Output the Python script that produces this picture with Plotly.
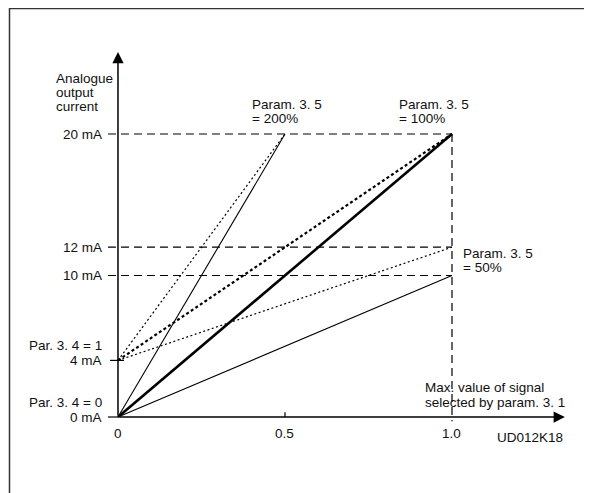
"""Analogue output current vs. signal value, drawn as a Plotly line schematic."""

import plotly.graph_objects as go

# ==== data ====
gain_labels = ["200%", "100%", "50%"]
gain_end_signal = [0.5, 1.0, 1.0]          # signal value where each line ends
end_current_zero = [20, 20, 10]            # mA reached with Par. 3.4 = 0 (0 mA offset)
end_current_live = [20, 20, 12]            # mA reached with Par. 3.4 = 1 (4 mA offset)
offset_levels = [0, 4]                     # mA at signal 0
ref_levels = [20, 12, 10]                  # dashed guide levels, mA
ref_signal = 1.0                           # dashed vertical guide at max signal
x_tick_values = [0, 0.5, 1.0]
x_tick_labels = ["0", "0.5", "1.0"]
y_tick_values = [20, 12, 10, 4, 0]
y_tick_labels = ["20 mA", "12 mA", "10 mA", "4 mA", "0 mA"]

FONT = "Liberation Sans, Arial, sans-serif"
INK = "#000000"
SIZE = 13.5

solid_widths = [1.1, 2.6, 1.1]
dotted_widths = [1.2, 2.2, 1.2]
dotted_dash = ["2px,2.5px", "3px,2.5px", "2px,2.5px"]

fig = go.Figure()

# dashed guide lines
for level in ref_levels:
    fig.add_trace(go.Scatter(
        x=[-0.03, ref_signal], y=[level, level], mode="lines",
        line=dict(color=INK, width=1.2, dash="8px,5px"), hoverinfo="skip",
    ))
fig.add_trace(go.Scatter(
    x=[ref_signal, ref_signal], y=[max(ref_levels), -0.3], mode="lines",
    line=dict(color=INK, width=1.2, dash="8px,5px"), hoverinfo="skip",
))

# output lines: solid from 0 mA, dotted from 4 mA
for i, gain in enumerate(gain_labels):
    fig.add_trace(go.Scatter(
        x=[0, gain_end_signal[i]], y=[offset_levels[0], end_current_zero[i]],
        mode="lines", name=gain + " (0 mA)",
        line=dict(color=INK, width=solid_widths[i]),
    ))
    fig.add_trace(go.Scatter(
        x=[0, gain_end_signal[i]], y=[offset_levels[1], end_current_live[i]],
        mode="lines", name=gain + " (4 mA)",
        line=dict(color=INK, width=dotted_widths[i], dash=dotted_dash[i]),
    ))

# small tick marks
fig.add_trace(go.Scatter(x=[-0.024, 0.018], y=[4, 4], mode="lines",
                         line=dict(color=INK, width=1.2), hoverinfo="skip"))
fig.add_trace(go.Scatter(x=[-0.03, 0], y=[0, 0], mode="lines",
                         line=dict(color=INK, width=1.2), hoverinfo="skip"))
fig.add_trace(go.Scatter(x=[0.5, 0.5], y=[0, 0.33], mode="lines",
                         line=dict(color=INK, width=1.2), hoverinfo="skip"))

annotations = []

# axes with arrow heads
annotations.append(dict(x=0, y=25.8, ax=0, ay=0, xref="x", yref="y", axref="x", ayref="y",
                        text="", showarrow=True, arrowhead=2, arrowsize=1.5,
                        arrowwidth=1.5, arrowcolor=INK))
annotations.append(dict(x=1.338, y=0, ax=0, ay=0, xref="x", yref="y", axref="x", ayref="y",
                        text="", showarrow=True, arrowhead=2, arrowsize=1.5,
                        arrowwidth=1.5, arrowcolor=INK))


def label(text, x, y, anchor="left"):
    annotations.append(dict(x=x, y=y, xref="x", yref="y", text=text, showarrow=False,
                            xanchor=anchor, yanchor="middle",
                            font=dict(family=FONT, size=SIZE, color="#111111")))


for value, text in zip(y_tick_values, y_tick_labels):
    label(text, -0.042, value, "right")
for value, text in zip(x_tick_values, x_tick_labels):
    label(text, value, -1.2, "center")

label("Analogue", -0.192, 23.9)
label("output", -0.192, 22.92)
label("current", -0.192, 21.94)
label("Par. 3. 4 = 1", -0.042, 5.04, "right")
label("Par. 3. 4 = 0", -0.042, 1.06, "right")
label("Max. value of signal", 0.913, 2.05)
label("selected by param. 3. 1", 0.913, 1.06)
label("UD012K18", 1.129, -1.48)

param_x = [0.395, 0.835, 1.027]
param_y = [22.1, 22.1, 11.56]
for i, gain in enumerate(gain_labels):
    label("Param. 3. 5", param_x[i], param_y[i])
    label("= " + gain, param_x[i], param_y[i] - 0.98)

# the page body adds an 8 px margin, so the figure is sized to the visible area
fig.update_layout(
    width=584, height=485,
    margin=dict(l=0, r=0, t=0, b=0),
    paper_bgcolor="white", plot_bgcolor="white",
    showlegend=False,
    xaxis=dict(range=[-0.3293, 1.4192], visible=False, fixedrange=True),
    yaxis=dict(range=[-5.371, 28.905], visible=False, fixedrange=True),
    annotations=annotations,
    shapes=[dict(type="rect", xref="paper", yref="paper",
                 x0=1.5 / 584, x1=580 / 584, y0=-0.05, y1=1 - 0.5 / 485,
                 line=dict(color="#333333", width=1.5))],
)

fig.write_html("out.html")
